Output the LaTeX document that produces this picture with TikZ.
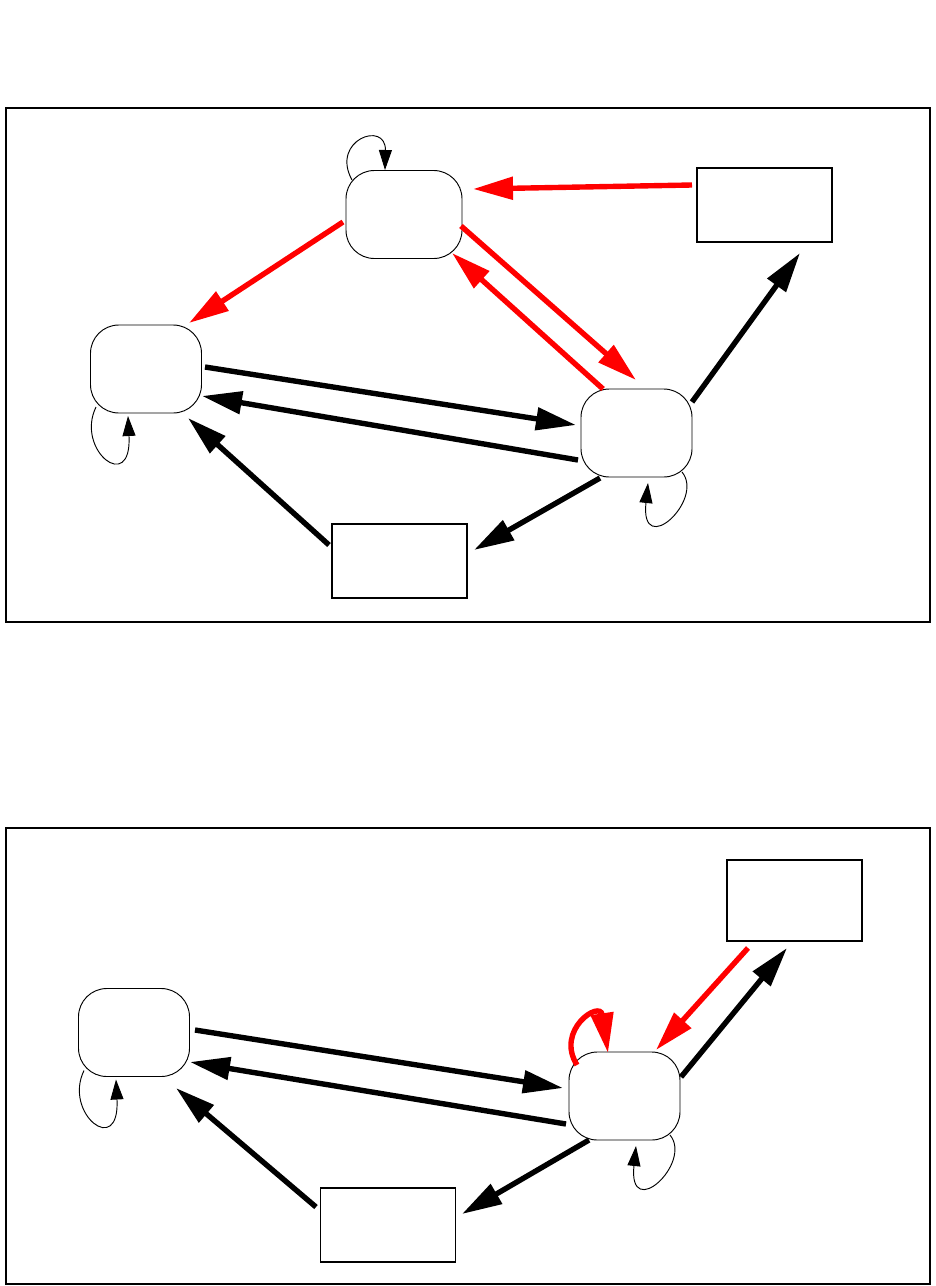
\documentclass[tikz,border=0pt]{standalone}
\usepackage{tikz}
\usetikzlibrary{calc,arrows.meta}
\definecolor{hot}{RGB}{255,0,0}

\begin{document}
\begin{tikzpicture}[x=0.03cm,y=-0.03cm]
  \tikzstyle{state}=[draw, line width=0.8pt, rounded corners=0.85cm, minimum width=3.33cm, minimum height=2.64cm, inner sep=0pt]
  \tikzstyle{blk}=[draw, line width=1.4pt, minimum width=4.05cm, minimum height=2.22cm, inner sep=0pt]
  \tikzstyle{tr}=[line width=4.6pt, -{Triangle[length=1.2cm, width=0.66cm]}]
  \tikzstyle{rtr}=[tr, color=hot]
  \tikzstyle{lp}=[line width=0.8pt, -{Triangle[length=0.6cm, width=0.39cm]}]
  \useasboundingbox (0,0) rectangle (936,1286);

  % upper panel
  \draw[line width=1.4pt] (6,108) rectangle (930,622);
  \node[state, minimum width=3.48cm] (a) at (404,214.5) {};
  \node[state] (b) at (146,369) {};
  \node[state] (c) at (636.5,433) {};
  \node[blk] (d) at (764.5,205) {};
  \node[blk] (e) at (399.5,561) {};
  \draw[rtr] ($(d.center)+(-72.5,-20)$) -- ($(a.center)+(69,-25.5)$);
  \draw[rtr] ($(a.center)+(-61,7.5)$) -- ($(b.center)+(43,-46)$);
  \draw[rtr] ($(a.center)+(57,11.5)$) -- ($(c.center)+(-0.5,-53)$);
  \draw[rtr] ($(c.center)+(-33.5,-44)$) -- ($(a.center)+(48,38.5)$);
  \draw[tr] ($(b.center)+(59,-2)$) -- ($(c.center)+(-60.5,-8)$);
  \draw[tr] ($(c.center)+(-58.5,27)$) -- ($(b.center)+(56,27)$);
  \draw[tr] ($(c.center)+(55.5,-31)$) -- ($(d.center)+(35.5,48)$);
  \draw[tr] ($(c.center)+(-36.5,45)$) -- ($(e.center)+(74.5,-11)$);
  \draw[tr] ($(e.center)+(-70.5,-16)$) -- ($(b.center)+(42,49)$);
  % self loops
  \draw[lp, shift={(a.center)}] (-52,-34.5) .. controls (-74,-74.5) and (-18,-94.5) .. (-19,-44.5);
  \draw[lp, shift={(b.center)}] (-50,38) .. controls (-71,81) and (-14,126) .. (-18,47);
  \draw[lp, shift={(c.center)}] (45.5,39) .. controls (68.5,67) and (3.5,127) .. (11.5,50);

  % lower panel
  \draw[line width=1.4pt] (6,828) rectangle (930,1284);
  \node[state] (b2) at (134,1032.5) {};
  \node[state] (c2) at (624.5,1096) {};
  \node[blk, minimum height=2.43cm] (d2) at (794.5,900.5) {};
  \node[blk] (e2) at (388,1225) {};
  \draw[tr] ($(b2.center)+(61,-2.5)$) -- ($(c2.center)+(-61.5,-8)$);
  \draw[tr] ($(c2.center)+(-58.5,28)$) -- ($(b2.center)+(56,29.5)$);
  \draw[tr] ($(c2.center)+(56.5,-19)$) -- ($(d2.center)+(-7.5,47.5)$);
  \draw[rtr] ($(d2.center)+(-46.5,47.5)$) -- ($(c2.center)+(31.5,-46)$);
  \draw[tr] ($(c2.center)+(-35.5,44)$) -- ($(e2.center)+(74,-11)$);
  \draw[tr] ($(e2.center)+(-72,-18)$) -- ($(b2.center)+(42,55.5)$);
  % self loops
  \draw[rtr, shift={(c2.center)}] (-47.5,-31) .. controls (-69.5,-66) and (-24.5,-96) .. (-16.5,-43);
  \draw[lp, shift={(b2.center)}] (-50,38) .. controls (-71,81) and (-14,126) .. (-18,47);
  \draw[lp, shift={(c2.center)}] (45.5,39) .. controls (68.5,67) and (3.5,127) .. (11.5,50);
\end{tikzpicture}
\end{document}
